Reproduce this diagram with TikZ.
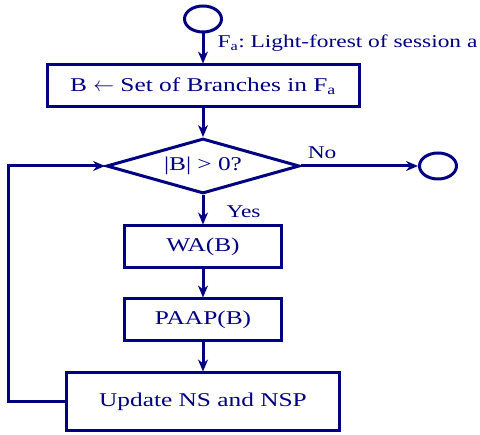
\documentclass[tikz,border=0pt]{standalone}
\usepackage{fontspec}
\setmainfont[FakeStretch=1.3]{Liberation Serif}
\usetikzlibrary{arrows.meta}
\usetikzlibrary{shapes.geometric}
\definecolor{navy}{RGB}{0,0,128}
\tikzset{
  box/.style={draw=navy,line width=3pt,inner sep=0pt,text=navy,minimum width=157pt,minimum height=42pt},
  term/.style={draw=navy,line width=3pt,ellipse,inner sep=0pt,minimum width=37pt,minimum height=26pt},
  cond/.style={draw=navy,line width=3pt,diamond,aspect=3.4,inner sep=0pt,text=navy,minimum width=193pt,minimum height=55pt},
  flow/.style={draw=navy,line width=3pt,-{Stealth[length=12pt,width=10pt]}},
  lbl/.style={text=navy,inner sep=2pt,font=\fontsize{18}{21}\selectfont}
}
\begin{document}
\frenchspacing
\begin{tikzpicture}[x=1pt,y=-1pt,font=\fontsize{19.5}{22}\selectfont]
\useasboundingbox (0,0) rectangle (480,435);
\node[term] (start) at (203,19) {};
\node[box,minimum width=312pt] (setb) at (203,86) {B $\leftarrow$ Set of Branches in F\textsubscript{a}};
\node[cond] (test) at (203,166) {|B| > 0?};
\node[term] (stop) at (438,166) {};
\node[box] (wa) at (203,247) {WA(B)};
\node[box] (paap) at (203,320) {PAAP(B)};
\node[box,minimum width=273pt,minimum height=58pt] (upd) at (203,402) {Update NS and NSP};
\coordinate (back) at (8,166);
\draw[flow] (start) -- (setb) node[lbl,pos=0.32,right=11pt] {F\textsubscript{a}: Light-forest of session a};
\draw[flow] (setb) -- (test);
\draw[flow] (test) -- (stop) node[lbl,pos=0.18,above=4pt] {No};
\draw[flow] (test) -- (wa) node[lbl,pos=0.58,right=20pt] {Yes};
\draw[flow] (wa) -- (paap);
\draw[flow] (paap) -- (upd);
\draw[flow] (upd.west) -| (back) -- (test.west);
\end{tikzpicture}
\end{document}
